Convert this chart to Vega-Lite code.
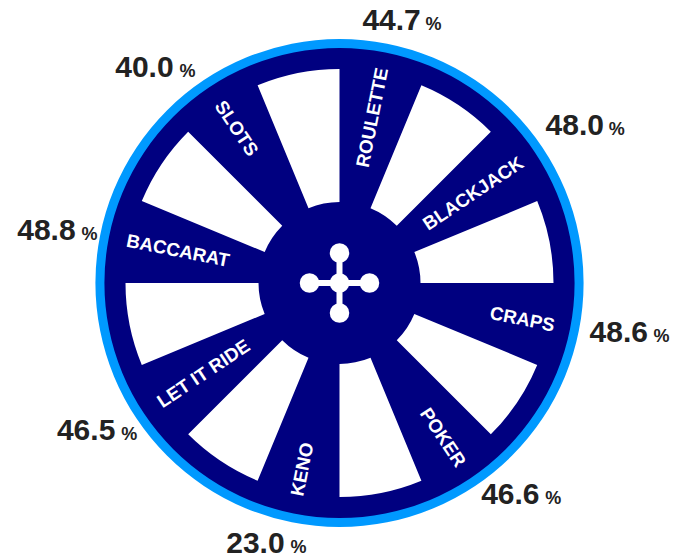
{
  "$schema": "https://vega.github.io/schema/vega-lite/v6.json",
  "width": 679,
  "height": 550,
  "autosize": "none",
  "padding": {"top": 8, "left": 0, "right": 0, "bottom": 0},
  "background": "white",
  "view": {"stroke": null},
  "config": {"text": {"font": "Liberation Sans"}},
  "datasets": {
    "games": [
      {"game": "ROULETTE", "value": 44.7, "idx": 0},
      {"game": "BLACKJACK", "value": 48.0, "idx": 1},
      {"game": "CRAPS", "value": 48.6, "idx": 2},
      {"game": "POKER", "value": 46.6, "idx": 3},
      {"game": "KENO", "value": 23.0, "idx": 4},
      {"game": "LET IT RIDE", "value": 46.5, "idx": 5},
      {"game": "BACCARAT", "value": 48.8, "idx": 6},
      {"game": "SLOTS", "value": 40.0, "idx": 7}
    ],
    "ring": [{"part": "wheel"}],
    "hubPoints": [
      {"px": 0, "py": 0},
      {"px": 30, "py": 0},
      {"px": -30, "py": 0},
      {"px": 0, "py": 30},
      {"px": 0, "py": -30}
    ],
    "hubBars": [
      {"x1": -30, "x2": 30, "y1": 0, "y2": 0},
      {"x1": 0, "x2": 0, "y1": -30, "y2": 30}
    ]
  },
  "layer": [
    {
      "data": {"name": "ring"},
      "mark": {"type": "arc", "innerRadius": 0, "outerRadius": 244, "theta": 0, "theta2": 6.2832, "color": "#0099ff"},
      "encoding": {}
    },
    {
      "data": {"name": "ring"},
      "mark": {"type": "arc", "innerRadius": 0, "outerRadius": 235, "theta": 0, "theta2": 6.2832, "color": "#000080"},
      "encoding": {}
    },
    {
      "data": {"name": "games"},
      "mark": {"type": "arc", "innerRadius": 81, "outerRadius": 214, "thetaOffset": 0.392699, "theta2Offset": 0.785398, "color": "#ffffff"},
      "encoding": {
        "theta": {"field": "idx", "type": "quantitative", "stack": null, "scale": {"domain": [0, 8], "range": [0, 6.283185307]}},
        "theta2": {"field": "idx"}
      }
    },
    {
      "data": {"name": "games"},
      "transform": [{"filter": "datum.idx < 4"}],
      "mark": {"type": "text", "radius": 219, "thetaOffset": 0.19635, "align": "right", "baseline": "middle", "fontWeight": "bold", "fontSize": 18.7, "color": "#ffffff"},
      "encoding": {
        "theta": {"field": "idx", "type": "quantitative", "stack": null, "scale": {"domain": [0, 8], "range": [0, 6.283185307]}},
        "text": {"field": "game"},
        "angle": {"field": "idx", "type": "quantitative", "scale": {"domain": [0, 3, 4, 7], "range": [-78.75, 56.25, -78.75, 56.25]}}
      }
    },
    {
      "data": {"name": "games"},
      "transform": [{"filter": "datum.idx >= 4"}],
      "mark": {"type": "text", "radius": 217, "thetaOffset": 0.19635, "align": "left", "baseline": "middle", "fontWeight": "bold", "fontSize": 18.7, "color": "#ffffff"},
      "encoding": {
        "theta": {"field": "idx", "type": "quantitative", "stack": null, "scale": {"domain": [0, 8], "range": [0, 6.283185307]}},
        "text": {"field": "game"},
        "angle": {"field": "idx", "type": "quantitative", "scale": {"domain": [0, 3, 4, 7], "range": [-78.75, 56.25, -78.75, 56.25]}}
      }
    },
    {
      "data": {"name": "games"},
      "transform": [{"filter": "datum.idx == 0"}],
      "mark": {"type": "text", "radius": 267, "thetaOffset": 0.19635, "align": "center", "baseline": "middle", "fontWeight": "bold", "fontSize": 30, "color": "#222222"},
      "encoding": {
        "theta": {"field": "idx", "type": "quantitative", "stack": null, "scale": {"domain": [0, 8], "range": [0, 6.283185307]}},
        "text": {"field": "value", "type": "quantitative", "format": ".1f"}
      }
    },
    {
      "data": {"name": "games"},
      "transform": [{"filter": "datum.idx == 0"}],
      "mark": {"type": "text", "radius": 267, "thetaOffset": 0.19635, "align": "left", "baseline": "middle", "dx": 34, "dy": 4, "fontWeight": "bold", "fontSize": 18, "color": "#222222"},
      "encoding": {
        "theta": {"field": "idx", "type": "quantitative", "stack": null, "scale": {"domain": [0, 8], "range": [0, 6.283185307]}},
        "text": {"value": "%"}
      }
    },
    {
      "data": {"name": "games"},
      "transform": [{"filter": "datum.idx == 1"}],
      "mark": {"type": "text", "radius": 283, "thetaOffset": 0.19635, "align": "center", "baseline": "middle", "fontWeight": "bold", "fontSize": 30, "color": "#222222"},
      "encoding": {
        "theta": {"field": "idx", "type": "quantitative", "stack": null, "scale": {"domain": [0, 8], "range": [0, 6.283185307]}},
        "text": {"field": "value", "type": "quantitative", "format": ".1f"}
      }
    },
    {
      "data": {"name": "games"},
      "transform": [{"filter": "datum.idx == 1"}],
      "mark": {"type": "text", "radius": 283, "thetaOffset": 0.19635, "align": "left", "baseline": "middle", "dx": 34, "dy": 4, "fontWeight": "bold", "fontSize": 18, "color": "#222222"},
      "encoding": {
        "theta": {"field": "idx", "type": "quantitative", "stack": null, "scale": {"domain": [0, 8], "range": [0, 6.283185307]}},
        "text": {"value": "%"}
      }
    },
    {
      "data": {"name": "games"},
      "transform": [{"filter": "datum.idx == 2 || datum.idx == 3"}],
      "mark": {"type": "text", "radius": 255, "thetaOffset": 0.19635, "align": "left", "baseline": "middle", "fontWeight": "bold", "fontSize": 30, "color": "#222222"},
      "encoding": {
        "theta": {"field": "idx", "type": "quantitative", "stack": null, "scale": {"domain": [0, 8], "range": [0, 6.283185307]}},
        "text": {"field": "value", "type": "quantitative", "format": ".1f"}
      }
    },
    {
      "data": {"name": "games"},
      "transform": [{"filter": "datum.idx == 2 || datum.idx == 3"}],
      "mark": {"type": "text", "radius": 255, "thetaOffset": 0.19635, "align": "left", "baseline": "middle", "dx": 64, "dy": 4, "fontWeight": "bold", "fontSize": 18, "color": "#222222"},
      "encoding": {
        "theta": {"field": "idx", "type": "quantitative", "stack": null, "scale": {"domain": [0, 8], "range": [0, 6.283185307]}},
        "text": {"value": "%"}
      }
    },
    {
      "data": {"name": "games"},
      "transform": [{"filter": "datum.idx >= 4 && datum.idx <= 6"}],
      "mark": {"type": "text", "radius": 266, "thetaOffset": 0.19635, "align": "right", "baseline": "middle", "dx": -3, "fontWeight": "bold", "fontSize": 30, "color": "#222222"},
      "encoding": {
        "theta": {"field": "idx", "type": "quantitative", "stack": null, "scale": {"domain": [0, 8], "range": [0, 6.283185307]}},
        "text": {"field": "value", "type": "quantitative", "format": ".1f"}
      }
    },
    {
      "data": {"name": "games"},
      "transform": [{"filter": "datum.idx >= 4 && datum.idx <= 6"}],
      "mark": {"type": "text", "radius": 266, "thetaOffset": 0.19635, "align": "left", "baseline": "middle", "dx": 3, "dy": 4, "fontWeight": "bold", "fontSize": 18, "color": "#222222"},
      "encoding": {
        "theta": {"field": "idx", "type": "quantitative", "stack": null, "scale": {"domain": [0, 8], "range": [0, 6.283185307]}},
        "text": {"value": "%"}
      }
    },
    {
      "data": {"name": "games"},
      "transform": [{"filter": "datum.idx == 7"}],
      "mark": {"type": "text", "radius": 259, "thetaOffset": 0.19635, "align": "right", "baseline": "middle", "dx": -22, "fontWeight": "bold", "fontSize": 30, "color": "#222222"},
      "encoding": {
        "theta": {"field": "idx", "type": "quantitative", "stack": null, "scale": {"domain": [0, 8], "range": [0, 6.283185307]}},
        "text": {"field": "value", "type": "quantitative", "format": ".1f"}
      }
    },
    {
      "data": {"name": "games"},
      "transform": [{"filter": "datum.idx == 7"}],
      "mark": {"type": "text", "radius": 259, "thetaOffset": 0.19635, "align": "right", "baseline": "middle", "dy": 4, "fontWeight": "bold", "fontSize": 18, "color": "#222222"},
      "encoding": {
        "theta": {"field": "idx", "type": "quantitative", "stack": null, "scale": {"domain": [0, 8], "range": [0, 6.283185307]}},
        "text": {"value": "%"}
      }
    },
    {
      "data": {"name": "hubBars"},
      "mark": {"type": "rule", "color": "#ffffff", "strokeWidth": 6},
      "encoding": {
        "x": {"field": "x1", "type": "quantitative", "axis": null, "scale": {"domain": [-339.5, 339.5], "nice": false, "zero": false}},
        "x2": {"field": "x2"},
        "y": {"field": "y1", "type": "quantitative", "axis": null, "scale": {"domain": [-275, 275], "nice": false, "zero": false}},
        "y2": {"field": "y2"}
      }
    },
    {
      "data": {"name": "hubPoints"},
      "mark": {"type": "point", "shape": "circle", "filled": true, "opacity": 1, "color": "#ffffff", "size": 380},
      "encoding": {
        "x": {"field": "px", "type": "quantitative", "axis": null, "scale": {"domain": [-339.5, 339.5], "nice": false, "zero": false}},
        "y": {"field": "py", "type": "quantitative", "axis": null, "scale": {"domain": [-275, 275], "nice": false, "zero": false}}
      }
    }
  ]
}
